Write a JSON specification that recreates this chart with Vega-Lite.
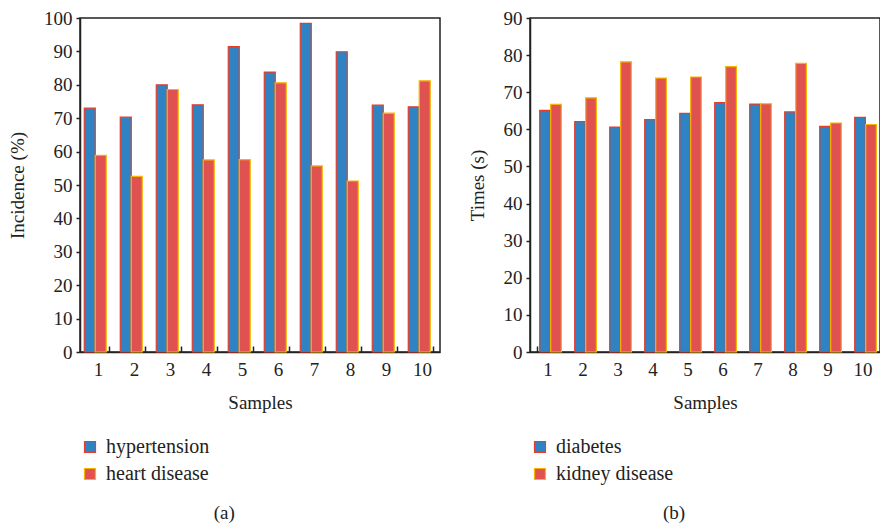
{
  "$schema": "https://vega.github.io/schema/vega-lite/v6.json",
  "background": "white",
  "padding": {"left": 7, "top": 8, "right": 0, "bottom": 0},
  "datasets": {
    "a": [
      {"sample": 1, "disease": "hypertension", "value": 73.0},
      {"sample": 1, "disease": "heart disease", "value": 58.9},
      {"sample": 2, "disease": "hypertension", "value": 70.3},
      {"sample": 2, "disease": "heart disease", "value": 52.6},
      {"sample": 3, "disease": "hypertension", "value": 80.0},
      {"sample": 3, "disease": "heart disease", "value": 78.6},
      {"sample": 4, "disease": "hypertension", "value": 74.0},
      {"sample": 4, "disease": "heart disease", "value": 57.5},
      {"sample": 5, "disease": "hypertension", "value": 91.4},
      {"sample": 5, "disease": "heart disease", "value": 57.6},
      {"sample": 6, "disease": "hypertension", "value": 83.8},
      {"sample": 6, "disease": "heart disease", "value": 80.6},
      {"sample": 7, "disease": "hypertension", "value": 98.4},
      {"sample": 7, "disease": "heart disease", "value": 55.7},
      {"sample": 8, "disease": "hypertension", "value": 89.9},
      {"sample": 8, "disease": "heart disease", "value": 51.2},
      {"sample": 9, "disease": "hypertension", "value": 73.9},
      {"sample": 9, "disease": "heart disease", "value": 71.5},
      {"sample": 10, "disease": "hypertension", "value": 73.4},
      {"sample": 10, "disease": "heart disease", "value": 81.2}
    ],
    "b": [
      {"sample": 1, "disease": "diabetes", "value": 65.1},
      {"sample": 1, "disease": "kidney disease", "value": 66.7},
      {"sample": 2, "disease": "diabetes", "value": 62.1},
      {"sample": 2, "disease": "kidney disease", "value": 68.5},
      {"sample": 3, "disease": "diabetes", "value": 60.6},
      {"sample": 3, "disease": "kidney disease", "value": 78.2},
      {"sample": 4, "disease": "diabetes", "value": 62.6},
      {"sample": 4, "disease": "kidney disease", "value": 73.8},
      {"sample": 5, "disease": "diabetes", "value": 64.3},
      {"sample": 5, "disease": "kidney disease", "value": 74.1},
      {"sample": 6, "disease": "diabetes", "value": 67.2},
      {"sample": 6, "disease": "kidney disease", "value": 76.9},
      {"sample": 7, "disease": "diabetes", "value": 66.8},
      {"sample": 7, "disease": "kidney disease", "value": 66.9},
      {"sample": 8, "disease": "diabetes", "value": 64.7},
      {"sample": 8, "disease": "kidney disease", "value": 77.8},
      {"sample": 9, "disease": "diabetes", "value": 60.8},
      {"sample": 9, "disease": "kidney disease", "value": 61.7},
      {"sample": 10, "disease": "diabetes", "value": 63.2},
      {"sample": 10, "disease": "kidney disease", "value": 61.3}
    ]
  },
  "config": {
    "font": "Liberation Serif",
    "view": {"stroke": "#222222", "strokeWidth": 1.5},
    "scale": {"offsetBandPaddingInner": 0, "offsetBandPaddingOuter": 0},
    "axis": {
      "labelFont": "Liberation Serif",
      "labelFontSize": 19,
      "labelColor": "#222222",
      "titleFont": "Liberation Serif",
      "titleFontSize": 19,
      "titleFontWeight": "normal",
      "titleColor": "#222222",
      "domainColor": "#222222",
      "domainWidth": 1.5,
      "tickColor": "#222222",
      "tickWidth": 1.5,
      "grid": false
    },
    "axisX": {"tickBand": "extent", "tickSize": -6, "labelAngle": 0, "labelPadding": 14, "titlePadding": 14},
    "axisY": {"tickSize": 4, "labelPadding": 4, "titlePadding": 16},
    "legend": {
      "orient": "bottom",
      "direction": "vertical",
      "title": null,
      "padding": 0,
      "symbolType": "square",
      "symbolSize": 121,
      "symbolStrokeWidth": 1.5,
      "labelFont": "Liberation Serif",
      "labelFontSize": 20,
      "labelColor": "#222222",
      "labelOffset": 6,
      "rowPadding": 7,
      "offset": 25
    },
    "title": {
      "orient": "bottom",
      "anchor": "middle",
      "frame": "bounds",
      "font": "Liberation Serif",
      "fontSize": 19,
      "fontWeight": "normal",
      "color": "#222222",
      "offset": 20
    },
    "bar": {"strokeWidth": 1.2}
  },
  "spacing": 26,
  "resolve": {"legend": {"fill": "independent", "stroke": "independent"}, "scale": {"fill": "independent", "stroke": "independent"}},
  "hconcat": [
    {
      "width": 360,
      "height": 334,
      "title": "(a)",
      "data": {"name": "a"},
      "mark": {"type": "bar", "width": 11},
      "encoding": {
        "x": {"field": "sample", "type": "ordinal", "title": "Samples", "scale": {"paddingInner": 0.39, "paddingOuter": 0.195}},
        "xOffset": {"field": "disease", "type": "nominal", "sort": ["hypertension", "heart disease"], "scale": {"paddingInner": 0, "paddingOuter": 0}},
        "y": {"field": "value", "type": "quantitative", "title": "Incidence (%)", "scale": {"domain": [0, 100], "nice": false}, "axis": {"values": [0, 10, 20, 30, 40, 50, 60, 70, 80, 90, 100]}},
        "fill": {"field": "disease", "type": "nominal", "title": null, "scale": {"domain": ["hypertension", "heart disease"], "range": ["#2f83c3", "#e05250"]}},
        "stroke": {"field": "disease", "type": "nominal", "title": null, "scale": {"domain": ["hypertension", "heart disease"], "range": ["#e53c2c", "#f7b500"]}}
      }
    },
    {
      "width": 350,
      "height": 334,
      "title": "(b)",
      "data": {"name": "b"},
      "mark": {"type": "bar", "width": 10.7},
      "encoding": {
        "x": {"field": "sample", "type": "ordinal", "title": "Samples", "scale": {"paddingInner": 0.39, "paddingOuter": 0.195}},
        "xOffset": {"field": "disease", "type": "nominal", "sort": ["diabetes", "kidney disease"], "scale": {"paddingInner": 0, "paddingOuter": 0}},
        "y": {"field": "value", "type": "quantitative", "title": "Times (s)", "scale": {"domain": [0, 90], "nice": false}, "axis": {"values": [0, 10, 20, 30, 40, 50, 60, 70, 80, 90]}},
        "fill": {"field": "disease", "type": "nominal", "title": null, "scale": {"domain": ["diabetes", "kidney disease"], "range": ["#2f83c3", "#e05250"]}},
        "stroke": {"field": "disease", "type": "nominal", "title": null, "scale": {"domain": ["diabetes", "kidney disease"], "range": ["#e53c2c", "#f7b500"]}}
      }
    }
  ]
}
